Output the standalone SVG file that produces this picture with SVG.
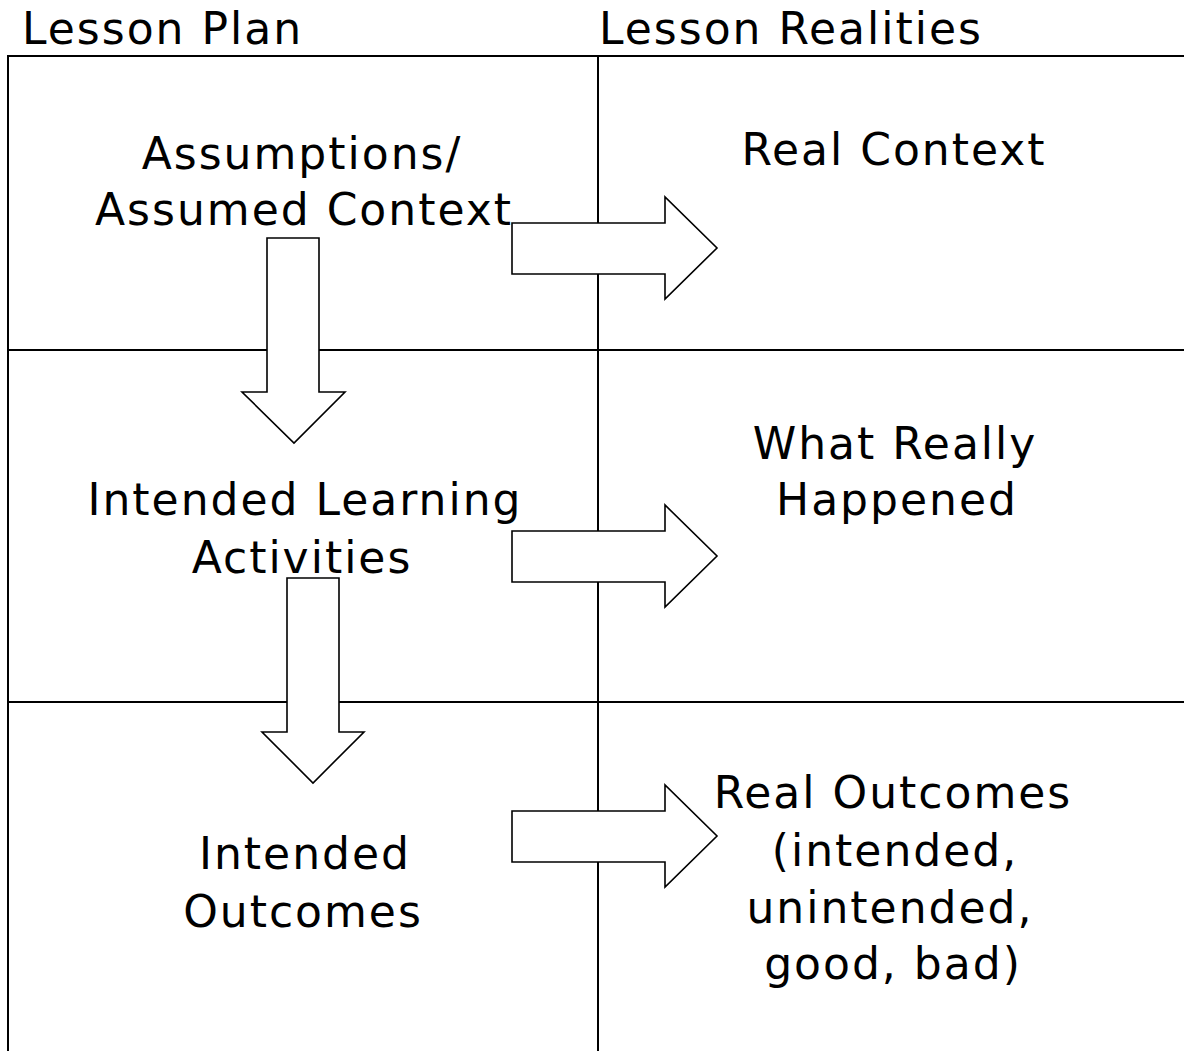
<svg xmlns="http://www.w3.org/2000/svg" width="1184" height="1051" viewBox="0 0 1184 1051">
<style>
.grid{stroke:#000;stroke-width:2;fill:none}
.arr{fill:#fff;stroke:#000;stroke-width:1.6;stroke-linejoin:miter}
text{font-family:"DejaVu Sans","Verdana",sans-serif;font-size:44px;letter-spacing:2px;fill:#000}
.c{text-anchor:middle}
</style>
<rect width="1184" height="1051" fill="#fff"/>
<g id="grid">
<line class="grid" x1="7" y1="56" x2="1184" y2="56"/>
<line class="grid" x1="8" y1="56" x2="8" y2="1051"/>
<line class="grid" x1="598" y1="56" x2="598" y2="1051"/>
<line class="grid" x1="8" y1="350" x2="1184" y2="350"/>
<line class="grid" x1="8" y1="702" x2="1184" y2="702"/>
</g>
<g id="connectors">
<path class="arr" d="M512,223 H665 V197 L717,248 L665,299 V274 H512 Z"/>
<path class="arr" d="M512,531 H665 V505 L717,556 L665,607 V582 H512 Z"/>
<path class="arr" d="M512,811 H665 V785 L717,836 L665,887 V862 H512 Z"/>
<path class="arr" d="M267,238 H319 V392 H345 L294,443 L242,392 H267 Z"/>
<path class="arr" d="M287,578 H339 V732 H364 L313,783 L262,732 H287 Z"/>
</g>
<g id="header-plan"><text x="22" y="44">Lesson Plan</text></g>
<g id="header-realities"><text x="599" y="44">Lesson Realities</text></g>
<g id="assumed-context">
<text class="c" x="302" y="169">Assumptions/</text>
<text class="c" x="304" y="225">Assumed Context</text>
</g>
<g id="real-context"><text class="c" x="894" y="165">Real Context</text></g>
<g id="intended-activities">
<text class="c" x="305" y="515">Intended Learning</text>
<text class="c" x="302" y="573">Activities</text>
</g>
<g id="what-happened">
<text class="c" x="895" y="459">What Really</text>
<text class="c" x="897" y="515">Happened</text>
</g>
<g id="intended-outcomes">
<text class="c" x="305" y="869">Intended</text>
<text class="c" x="303" y="927">Outcomes</text>
</g>
<g id="real-outcomes">
<text class="c" x="893" y="808">Real Outcomes</text>
<text class="c" x="895" y="866">(intended,</text>
<text class="c" x="890" y="923">unintended,</text>
<text class="c" x="893" y="979">good, bad)</text>
</g>
</svg>
